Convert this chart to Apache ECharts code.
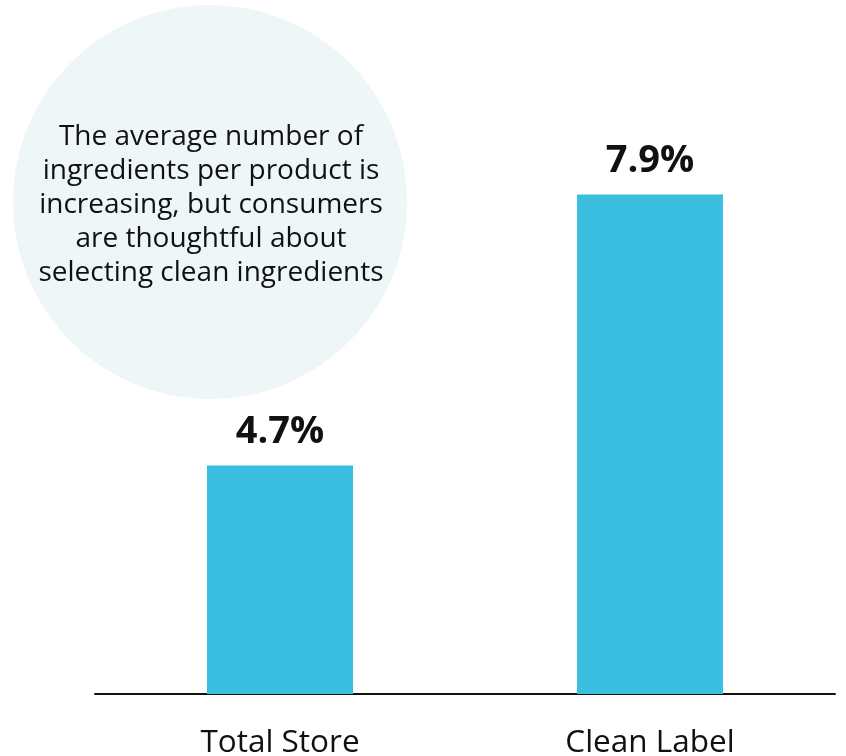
<!DOCTYPE html>
<html>
<head>
<meta charset="utf-8">
<script src="https://cdn.jsdelivr.net/npm/echarts@6/dist/echarts.min.js"></script>
<style>
  html, body { margin: 0; padding: 0; background: #ffffff; }
  #chart { width: 846px; height: 756px; }
</style>
</head>
<body>
<div id="chart"></div>
<script>
// Ingredient growth: total store vs clean label products
const categories = ['Total Store', 'Clean Label'];
const growthValues = [4.7, 7.9];
const calloutLines = [
  'The average number of',
  'ingredients per product is',
  'increasing, but consumers',
  'are thoughtful about',
  'selecting clean ingredients'
];

const FONT = '"Open Sans", "Noto Sans", sans-serif';
const chart = echarts.init(document.getElementById('chart'), null, { renderer: 'canvas' });

chart.setOption({
  backgroundColor: '#ffffff',
  animation: false,
  grid: {
    left: 95, right: 11, top: 186, bottom: 62,
    containLabel: false,
    outerBoundsMode: 'none'
  },
  xAxis: {
    type: 'category',
    data: categories,
    axisLine: { show: true, lineStyle: { color: '#111111', width: 2 } },
    axisTick: { show: false },
    axisLabel: {
      color: '#111111',
      fontFamily: FONT,
      fontSize: 31.5,
      margin: 33
    }
  },
  yAxis: {
    type: 'value',
    min: 2,
    max: 8,
    show: false,
    splitLine: { show: false }
  },
  graphic: [
    {
      type: 'circle',
      shape: { cx: 210, cy: 202, r: 197 },
      style: { fill: '#eef6f8' },
      z: -10
    },
    {
      type: 'text',
      x: 211,
      y: 205,
      style: {
        text: calloutLines.join('\n'),
        fill: '#111111',
        font: '28px ' + FONT,
        lineHeight: 34,
        align: 'center',
        verticalAlign: 'middle'
      },
      z: -5
    }
  ],
  series: [
    {
      type: 'bar',
      data: growthValues,
      barWidth: 146,
      itemStyle: { color: '#3bbfe0' },
      label: {
        show: true,
        position: 'top',
        distance: 14,
        formatter: (p) => p.value.toFixed(1) + '%',
        color: '#111111',
        fontFamily: FONT,
        fontWeight: 'bold',
        fontSize: 38
      }
    }
  ]
});
</script>
</body>
</html>
